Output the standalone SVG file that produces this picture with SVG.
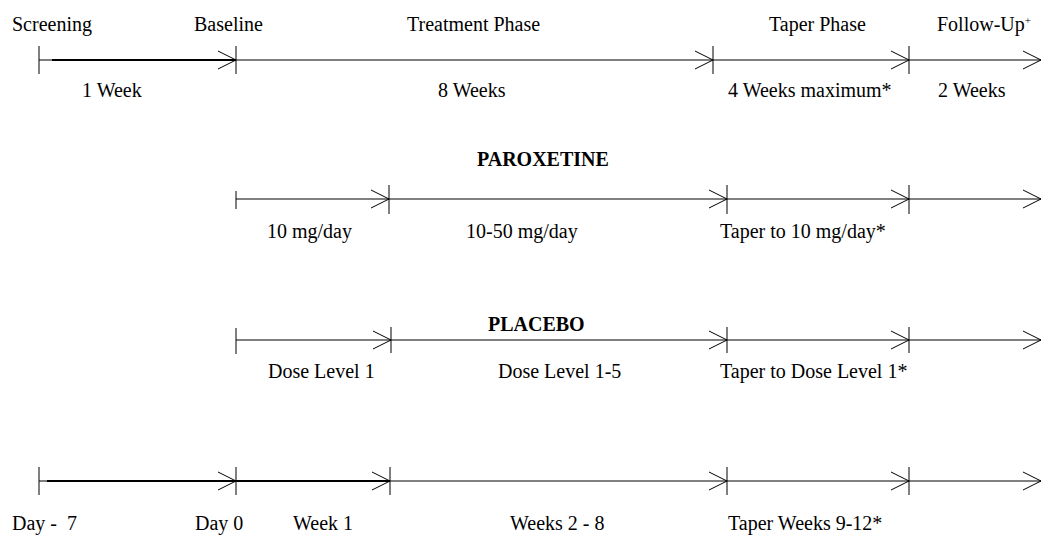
<svg xmlns="http://www.w3.org/2000/svg" width="1042" height="537" viewBox="0 0 1042 537">
<style>
text{font-family:"Liberation Serif","Times New Roman",serif;font-size:20px;fill:#000}
.b{font-weight:bold}
.seg{stroke:#000;stroke-width:1;fill:none}
.thick{stroke-width:2}
.tick{stroke:#000;stroke-width:1}
</style>
<defs>
<marker id="ah" markerUnits="userSpaceOnUse" markerWidth="20" markerHeight="20" viewBox="-19 -10 20 20" refX="0" refY="0" orient="auto">
<path d="M-18,-9 L0,0 L-18,9" fill="none" stroke="#000" stroke-width="1"/>
</marker>
</defs>
<rect width="1042" height="537" fill="#fff"/>
<g id="connectors">
<line class="seg" x1="39" y1="60" x2="52" y2="60"/>
<line class="seg thick" x1="52" y1="60" x2="236" y2="60" marker-end="url(#ah)"/>
<line class="seg" x1="236" y1="60" x2="713" y2="60" marker-end="url(#ah)"/>
<line class="seg" x1="713" y1="60" x2="909" y2="60" marker-end="url(#ah)"/>
<line class="seg" x1="909" y1="60" x2="1041" y2="60" marker-end="url(#ah)"/>
<line class="tick" x1="39" y1="46" x2="39" y2="74"/>
<line class="tick" x1="236" y1="46" x2="236" y2="74"/>
<line class="tick" x1="713" y1="46" x2="713" y2="74"/>
<line class="tick" x1="909" y1="46" x2="909" y2="74"/>
<line class="seg" x1="236" y1="199" x2="389" y2="199" marker-end="url(#ah)"/>
<line class="seg" x1="389" y1="199" x2="727" y2="199" marker-end="url(#ah)"/>
<line class="seg" x1="727" y1="199" x2="909" y2="199" marker-end="url(#ah)"/>
<line class="seg" x1="909" y1="199" x2="1041" y2="199" marker-end="url(#ah)"/>
<line class="tick" x1="236" y1="191" x2="236" y2="209"/>
<line class="tick" x1="389" y1="185" x2="389" y2="214"/>
<line class="tick" x1="727" y1="185" x2="727" y2="214"/>
<line class="tick" x1="909" y1="185" x2="909" y2="214"/>
<line class="seg" x1="236" y1="340" x2="391" y2="340" marker-end="url(#ah)"/>
<line class="seg" x1="391" y1="340" x2="727" y2="340" marker-end="url(#ah)"/>
<line class="seg" x1="727" y1="340" x2="909" y2="340" marker-end="url(#ah)"/>
<line class="seg" x1="909" y1="340" x2="1041" y2="340" marker-end="url(#ah)"/>
<line class="tick" x1="236" y1="328" x2="236" y2="354"/>
<line class="tick" x1="391" y1="327" x2="391" y2="353"/>
<line class="tick" x1="727" y1="327" x2="727" y2="353"/>
<line class="tick" x1="909" y1="327" x2="909" y2="353"/>
<line class="seg" x1="39" y1="481" x2="47" y2="481"/>
<line class="seg thick" x1="47" y1="481" x2="236" y2="481" marker-end="url(#ah)"/>
<line class="seg thick" x1="236" y1="481" x2="390" y2="481" marker-end="url(#ah)"/>
<line class="seg" x1="390" y1="481" x2="727" y2="481" marker-end="url(#ah)"/>
<line class="seg" x1="727" y1="481" x2="909" y2="481" marker-end="url(#ah)"/>
<line class="seg" x1="909" y1="481" x2="1041" y2="481" marker-end="url(#ah)"/>
<line class="tick" x1="39" y1="467" x2="39" y2="495"/>
<line class="tick" x1="236" y1="467" x2="236" y2="495"/>
<line class="tick" x1="390" y1="467" x2="390" y2="495"/>
<line class="tick" x1="727" y1="467" x2="727" y2="495"/>
<line class="tick" x1="909" y1="467" x2="909" y2="495"/>
</g>
<g id="phases">
<g id="screening"><text x="12" y="31">Screening</text></g>
<g id="baseline"><text x="194" y="31">Baseline</text></g>
<g id="treatment"><text x="407" y="31">Treatment Phase</text></g>
<g id="taper"><text x="769" y="31">Taper Phase</text></g>
<g id="followup"><text x="937" y="31">Follow-Up<tspan font-size="11" dy="-7">+</tspan></text></g>
<g id="dur1"><text x="82" y="97">1 Week</text></g>
<g id="dur8"><text x="438" y="97">8 Weeks</text></g>
<g id="dur4"><text x="728" y="97">4 Weeks maximum*</text></g>
<g id="dur2"><text x="938" y="97">2 Weeks</text></g>
</g>
<g id="paroxetine">
<text class="b" x="477" y="166">PAROXETINE</text>
<text x="267" y="238">10 mg/day</text>
<text x="466" y="238">10-50 mg/day</text>
<text x="720" y="238">Taper to 10 mg/day*</text>
</g>
<g id="placebo">
<text class="b" x="488" y="331">PLACEBO</text>
<text x="268" y="378">Dose Level 1</text>
<text x="498" y="378">Dose Level 1-5</text>
<text x="720" y="378">Taper to Dose Level 1*</text>
</g>
<g id="timeline">
<text x="12" y="530" xml:space="preserve">Day -  7</text>
<text x="195" y="530">Day 0</text>
<text x="293" y="530">Week 1</text>
<text x="510" y="530">Weeks 2 - 8</text>
<text x="728" y="530">Taper Weeks 9-12*</text>
</g>
</svg>
